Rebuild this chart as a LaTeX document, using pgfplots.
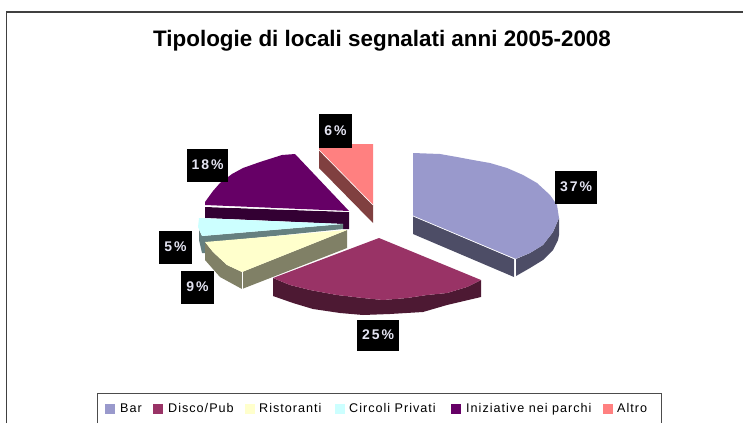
\documentclass[border=0pt]{standalone}
\usepackage{pgfplots}
\pgfplotsset{compat=1.18}
\usepackage{fontspec}
\setmainfont{Liberation Sans}
\definecolor{cBar}{HTML}{9999CC}\definecolor{sBar}{HTML}{4D4D66}
\definecolor{cDis}{HTML}{993366}\definecolor{sDis}{HTML}{4D1933}
\definecolor{cRis}{HTML}{FFFFCC}\definecolor{sRis}{HTML}{808066}
\definecolor{cCir}{HTML}{CCFFFF}\definecolor{sCir}{HTML}{668080}
\definecolor{cIni}{HTML}{660066}\definecolor{sIni}{HTML}{330033}
\definecolor{cAlt}{HTML}{FF8080}\definecolor{sAlt}{HTML}{804040}
\definecolor{lab}{HTML}{E4E4F2}
\newcommand{\leg}[3]{\node[anchor=base west,inner sep=0pt,text=black] at (axis cs:#1,412.5) {\fontsize{12.6}{14}\selectfont\addfontfeature{LetterSpace=#3}#2};}
\newcommand{\lab}[5]{\node[fill=black,text=lab,inner sep=0pt,minimum width=#3pt,minimum height=#4pt] at (axis cs:#1,#2) {\raisebox{0.8pt}{\fontsize{14}{15}\selectfont\bfseries\addfontfeature{LetterSpace=14}#5}};}
\begin{document}
\begin{tikzpicture}
\useasboundingbox (0,0) rectangle (743pt,423pt);
\begin{axis}[hide axis,scale only axis,width=743pt,height=423pt,at={(0,0)},anchor=south west,
  xmin=0,xmax=743,ymin=0,ymax=423,y dir=reverse,clip=true]
% frame
\addplot[draw=black!75,line width=1.2pt] coordinates {(6.5,423) (6.5,12) (743,12)};
% Altro
\addplot[fill=sAlt,draw=none] coordinates {(319,150) (373,205) (373,223) (319,168)} --cycle;
\addplot[fill=cAlt,draw=none] coordinates {(319,144) (373,144) (373,205) (319,150)} --cycle;
\addplot[draw=white,line width=0.6pt] coordinates {(319,150) (373,205)};
% Iniziative
\addplot[fill=sIni,draw=none] coordinates {(205,207) (349,212) (349,229) (343,229) (343,224) (205,218)} --cycle;
\addplot[fill=cIni,draw=none] coordinates {(205,205) (205,202) (213,191) (220,183) (232,174) (243,168) (260,162) (282,155) (295,154) (349,211) } --cycle;
\addplot[draw=white,line width=0.6pt] coordinates {(205,206.5) (349,211.5)};
% Circoli
\addplot[fill=sCir,draw=none] coordinates {(199,230) (202,236) (343,224) (343,229) (205,243) (205,253) (202,253) (199,240)} --cycle;
\addplot[fill=cCir,draw=none] coordinates {(199,218) (343,224) (202,236) (198,227)} --cycle;
% Ristoranti
\addplot[fill=sRis,draw=none] coordinates {(205,242) (213,252) (227,265) (242,272) (347,230) (347,248) (242,289) (220,277) (205,260)} --cycle;
\addplot[fill=cRis,draw=none] coordinates {(205,242) (347,230) (242,272) (227,265) (213,252)} --cycle;
\addplot[draw=white,line width=0.5pt] coordinates {(242,272) (242,289)};
% Disco
\addplot[fill=sDis,draw=none] coordinates {(273,278) (290,285) (310,290) (337,295) (363,298) (383,300) (407,298) (427,295) (447,293) (467,287) (481,280) (481,297) (447,305) (423,312) (390,314) (363,315) (340,313) (313,309) (293,303) (273,296)} --cycle;
\addplot[fill=cDis,draw=none] coordinates {(379,238) (481,280) (467,287) (447,293) (427,295) (407,298) (383,300) (363,298) (337,295) (310,290) (290,285) (273,278)} --cycle;
% Bar
\addplot[fill=sBar,draw=none] coordinates {(413,216) (514,259) (514,277) (413,234)} --cycle;
\addplot[fill=sBar,draw=none] coordinates {(516,259) (530,253) (543,245) (553,232) (559,218) (559,235) (558,240) (553,250) (543,260) (530,268) (516,276)} --cycle;
\addplot[fill=cBar,draw=none] coordinates {(413,153) (440,154) (457,157) (473,160) (490,163) (507,168) (523,175) (537,183) (550,195) (557,205) (559,218) (553,232) (543,245) (530,253) (515,259) (413,216)} --cycle;
\addplot[draw=white,line width=0.7pt] coordinates {(413,216) (515,259) (515,277)};
% labels
\lab{576}{187.5}{42}{33}{37\%}
\lab{378}{335}{42}{31}{25\%}
\lab{207.5}{165.5}{41}{33}{18\%}
\lab{175.5}{247.5}{33}{33}{5\%}
\lab{197.5}{287.5}{33}{33}{9\%}
\lab{335.5}{131}{33}{34}{6\%}
% title
\node[text=black] at (axis cs:382,40.5) {\fontsize{22.4}{24}\selectfont\bfseries Tipologie di locali segnalati anni 2005-2008};
% legend
\addplot[draw=black!70,line width=0.8pt] coordinates {(97,423) (97,393) (661,393) (661,423)};
\addplot[fill=cBar,draw=none] coordinates {(105,404) (115,404) (115,414) (105,414)} --cycle;
\addplot[fill=cDis,draw=none] coordinates {(153,404) (163,404) (163,414) (153,414)} --cycle;
\addplot[fill=cRis,draw=none] coordinates {(245,404) (255,404) (255,414) (245,414)} --cycle;
\addplot[fill=cCir,draw=none] coordinates {(335,404) (345,404) (345,414) (335,414)} --cycle;
\addplot[fill=cIni,draw=none] coordinates {(451,404) (461,404) (461,414) (451,414)} --cycle;
\addplot[fill=cAlt,draw=none] coordinates {(603,404) (613,404) (613,414) (603,414)} --cycle;
\leg{120}{Bar}{8}
\leg{168}{Disco/Pub}{8}
\leg{259}{Ristoranti}{8}
\leg{349}{Circoli Privati}{8}
\leg{466}{Iniziative nei parchi}{8}
\leg{617}{Altro}{8}
\end{axis}
\end{tikzpicture}
\end{document}
